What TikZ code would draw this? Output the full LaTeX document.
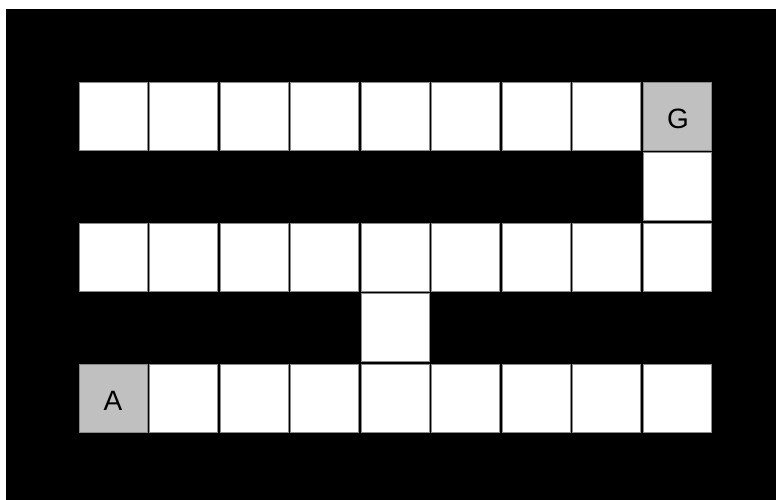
\documentclass[tikz,border=0pt]{standalone}
\usepackage{fontspec}
\setmainfont{Liberation Sans}
\definecolor{cellgray}{HTML}{C0C0C0}
\definecolor{edgegray}{HTML}{8A8A8A}
\begin{document}
\begin{tikzpicture}[x=1pt,y=-1pt,
  cell/.style={rectangle,minimum width=68pt,minimum height=68pt,inner sep=0pt,fill=white,draw=edgegray,line width=0.7pt},
  mark cell/.style={cell,fill=cellgray},
  letter/.style={font=\fontsize{28}{28}\selectfont,inner sep=0pt}]
\useasboundingbox (0,0) rectangle (776,500);
\fill[black] (6,9) rectangle (776,500);
\foreach \r/\cols in {0/{0,1,2,3,4,5,6,7},1/{8},2/{0,1,2,3,4,5,6,7,8},3/{4},4/{1,2,3,4,5,6,7,8}}{
  \foreach \c in \cols {
    \node[cell] (c-\r-\c) at ({113+70.5*\c},{116+70.5*\r}) {};
  }
}
\node[mark cell] (c-0-8) at ({113+70.5*8},116) {};
\node[mark cell] (c-4-0) at (113,{116+70.5*4}) {};
\node[letter] (g) at ([yshift=-3pt,xshift=1pt]c-0-8.center) {G};
\node[letter] (a) at ([yshift=-3pt]c-4-0.center) {A};
\end{tikzpicture}
\end{document}
